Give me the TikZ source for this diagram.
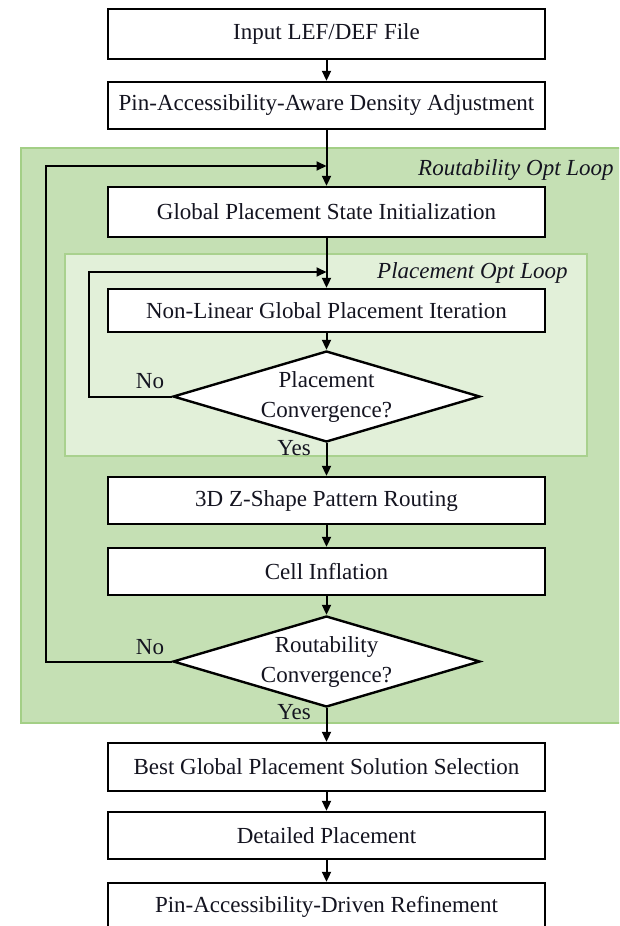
\documentclass[tikz,border=0pt]{standalone}
\usepackage{fontspec}
\setmainfont{Liberation Serif}
\usetikzlibrary{arrows.meta,shapes.geometric}

\definecolor{outerfill}{HTML}{C5E0B4}
\definecolor{outerline}{HTML}{A3CF86}
\definecolor{innerfill}{HTML}{E2F0D9}
\definecolor{innerline}{HTML}{A9D18E}
\definecolor{inktext}{HTML}{141420}

\tikzset{
  stepbox/.style={draw=black, fill=white, line width=2.4pt, minimum width=437pt,
    inner sep=0pt, text=inktext, font=\fontsize{23}{27}\selectfont},
  decision/.style={draw=black, fill=white, line width=2.4pt, shape=diamond,
    shape aspect=3.37, minimum width=307pt, minimum height=91pt, inner sep=0pt,
    align=center, text=inktext, font=\fontsize{23}{30}\selectfont},
  flow/.style={line width=2pt, -{Triangle[length=10pt,width=9pt]}},
  looplabel/.style={font=\fontsize{23}{27}\selectfont\itshape, text=inktext,
    inner sep=0pt, anchor=west},
  answer/.style={font=\fontsize{23}{27}\selectfont, text=inktext, inner sep=0pt},
}

\begin{document}
\begin{tikzpicture}[x=1pt, y=-1pt]
  \useasboundingbox (0,0) rectangle (619,926);
  \clip (0,0) rectangle (619,926);

  % loop regions
  \draw[fill=outerfill, draw=outerline, line width=2pt] (21,148) rectangle (650,723);
  \draw[fill=innerfill, draw=innerline, line width=2pt] (65,254) rectangle (587,456);
  \node[looplabel] (routeloop) at (418,170) {Routability Opt Loop};
  \node[looplabel] (placeloop) at (377,273) {Placement Opt Loop};

  % process steps
  \node[stepbox, minimum height=50pt] (input) at (326.5,34) {Input LEF/DEF File};
  \node[stepbox, minimum height=47pt] (density) at (326.5,105.5) {Pin-Accessibility-Aware Density Adjustment};
  \node[stepbox, minimum height=50pt] (init) at (326.5,212) {Global Placement State Initialization};
  \node[stepbox, minimum height=43pt] (iter) at (326.5,310.5) {Non-Linear Global Placement Iteration};
  \node[decision] (pconv) at (326.5,396.5) {Placement\\Convergence?};
  \node[stepbox, minimum height=47pt] (route) at (326.5,500.5) {3D Z-Shape Pattern Routing};
  \node[stepbox, minimum height=47pt] (inflate) at (326.5,571.5) {Cell Inflation};
  \node[decision] (rconv) at (326.5,661.5) {Routability\\Convergence?};
  \node[stepbox, minimum height=48pt] (best) at (326.5,767) {Best Global Placement Solution Selection};
  \node[stepbox, minimum height=47pt] (detail) at (326.5,835.5) {Detailed Placement};
  \node[stepbox, minimum height=48pt] (refine) at (326.5,907) {Pin-Accessibility-Driven Refinement};

  % branch labels
  \node[answer] (pno) at (150,381) {No};
  \node[answer] (pyes) at (294,448) {Yes};
  \node[answer] (rno) at (150,647) {No};
  \node[answer] (ryes) at (294,712) {Yes};

  % loop joints on the main line
  \coordinate (rjoin) at (326.5,166);
  \coordinate (pjoin) at (326.5,272);

  % main flow
  \draw[flow] (input) -- (density);
  \draw[flow] (density) -- (init);
  \draw[flow] (init) -- (iter);
  \draw[flow] (iter) -- (pconv);
  \draw[flow] (pconv) -- (route);
  \draw[flow] (route) -- (inflate);
  \draw[flow] (inflate) -- (rconv);
  \draw[flow] (rconv) -- (best);
  \draw[flow] (best) -- (detail);
  \draw[flow] (detail) -- (refine);

  % feedback loops
  \draw[flow] (pconv.west) -- (89,396.5) -- (89,272) -- (pjoin);
  \draw[flow] (rconv.west) -- (46,661.5) -- (46,166) -- (rjoin);
\end{tikzpicture}
\end{document}
